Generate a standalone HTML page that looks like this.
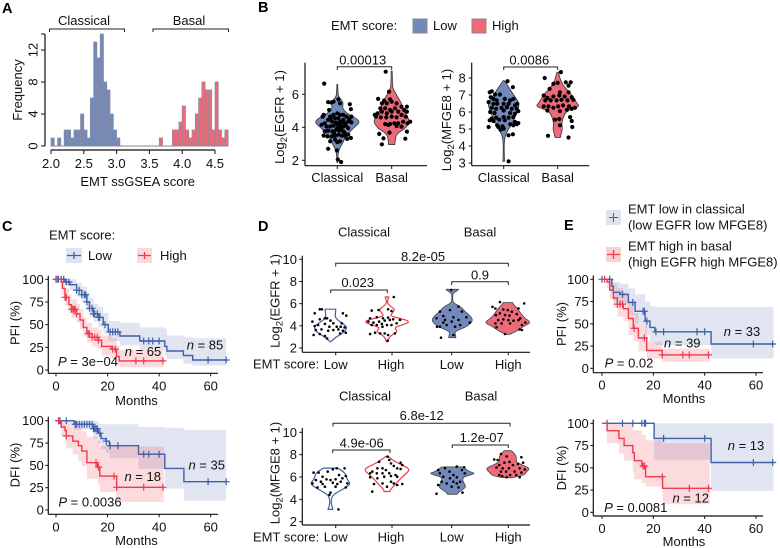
<!DOCTYPE html>
<html lang="en">
<head>
<meta charset="utf-8">
<title>EMT score figure</title>
<style>
html,body{margin:0;padding:0;background:#fff;}
svg{display:block;font-family:"Liberation Sans",Arial,sans-serif;font-size:13px;}
svg text{fill:#111;}
.c{text-anchor:middle;}
.br{fill:none;stroke:#222;stroke-width:1;}
.pl{font-weight:bold;font-size:14.5px;fill:#000;}
.it{font-style:italic;}
</style>
</head>
<body>
<svg id="fig" xmlns="http://www.w3.org/2000/svg" width="780" height="548" viewBox="0 0 780 548">
<rect width="780" height="548" fill="#fff"/>

<g id="pA">
<text class="pl" x="2" y="13">A</text>
<text class="c" x="84" y="25">Classical</text>
<text class="c" x="189" y="25">Basal</text>
<path class="br" d="M49.5 32V29H124.5V32"/>
<path class="br" d="M153 32V29H228.5V32"/>
<text class="c" transform="rotate(-90 17.5 90)" x="17.5" y="94.5">Frequency</text>
<text class="c" x="137.7" y="186">EMT ssGSEA score</text>
</g>

<g id="pB">
<text class="pl" x="258" y="12">B</text>
<text x="331" y="30">EMT score:</text>
<rect x="413" y="19" width="14" height="14" fill="#7389bb" stroke="#888" stroke-width="1"/>
<text x="433" y="30">Low</text>
<rect x="472" y="19" width="14" height="14" fill="#ee6a7a" stroke="#888" stroke-width="1"/>
<text x="492" y="30">High</text>
<text class="c" transform="rotate(-90 279.5 117)" x="279.5" y="121.5">Log<tspan dy="3" font-size="9.5">2</tspan><tspan dy="-3">(EGFR + 1)</tspan></text>
<text class="c" transform="rotate(-90 446.5 120)" x="446.5" y="124.5">Log<tspan dy="3" font-size="9.5">2</tspan><tspan dy="-3">(MFGE8 + 1)</tspan></text>
<path class="br" d="M337.3 70V66.7H391.7V70"/>
<text class="c" x="362.7" y="64.5">0.00013</text>
<path class="br" d="M503.7 70V67H557.7V70"/>
<text class="c" x="529.3" y="64.5">0.0086</text>
</g>

<g id="pC">
<text class="pl" x="2" y="231">C</text>
<text x="49" y="239.5">EMT score:</text>
<rect x="66" y="248" width="16" height="15" fill="#dfe3f0"/>
<path d="M67 255.5H81M74 252V259" stroke="#4060a8" stroke-width="1.3" fill="none"/>
<text x="88" y="260">Low</text>
<rect x="137" y="248" width="15" height="15" fill="#fbd9dc"/>
<path d="M138 255.5H151M144.5 252V259" stroke="#ee3a4e" stroke-width="1.3" fill="none"/>
<text x="160" y="260">High</text>
<text class="c" transform="rotate(-90 15 323)" x="15" y="327.5">PFI (%)</text>
<text class="c" transform="rotate(-90 15 465)" x="15" y="469.5">DFI (%)</text>
<text class="c" x="136.5" y="405">Months</text>
<text class="c" x="136.5" y="545">Months</text>
</g>

<g id="pD">
<text class="pl" x="258" y="231">D</text>
<text class="c" x="364" y="236.5">Classical</text>
<text class="c" x="480" y="236.5">Basal</text>
<text class="c" x="365" y="400.5">Classical</text>
<text class="c" x="481" y="400.5">Basal</text>
<text class="c" transform="rotate(-90 275 301)" x="275" y="305.5">Log<tspan dy="3" font-size="9.5">2</tspan><tspan dy="-3">(EGFR + 1)</tspan></text>
<text class="c" transform="rotate(-90 275 473)" x="275" y="477.5">Log<tspan dy="3" font-size="9.5">2</tspan><tspan dy="-3">(MFGE8 + 1)</tspan></text>
<path class="br" d="M335.7 266.5V263.3H508.3V266.5"/>
<text class="c" x="423" y="261">8.2e-05</text>
<path class="br" d="M451.7 285V281.7H508.3V285"/>
<text class="c" x="480" y="279.5">0.9</text>
<path class="br" d="M330.7 293V290H387.3V293"/>
<text class="c" x="357.7" y="287">0.023</text>
<path class="br" d="M333 426.5V423.3H510V426.5"/>
<text class="c" x="421.7" y="420">6.8e-12</text>
<path class="br" d="M452.3 448V445H508.3V448"/>
<text class="c" x="481.7" y="442">1.2e-07</text>
<path class="br" d="M332.7 453V450H390V453"/>
<text class="c" x="361.7" y="447.3">4.9e-06</text>
<text x="253" y="368.5">EMT score:</text>
<text x="253" y="541.5">EMT score:</text>
</g>

<g id="pE">
<text class="pl" x="564" y="230">E</text>
<rect x="606" y="210" width="15" height="15" fill="#dfe3f0"/>
<path d="M609 217.5H618M613.5 213V222" stroke="#4060a8" stroke-width="1" fill="none"/>
<text x="628" y="213.5">EMT low in classical</text>
<text x="628" y="229.5">(low EGFR low MFGE8)</text>
<rect x="606" y="247" width="15" height="15" fill="#fbd0d5"/>
<path d="M607 254.5H620M613.5 250V259" stroke="#ee3a4e" stroke-width="1.3" fill="none"/>
<text x="628" y="250.5">EMT high in basal</text>
<text x="628" y="266.5">(high EGFR high MFGE8)</text>
<text class="c" transform="rotate(-90 561.7 324)" x="561.7" y="328.5">PFI (%)</text>
<text class="c" transform="rotate(-90 561.7 468)" x="561.7" y="472.5">DFI (%)</text>
<text class="c" x="684" y="403">Months</text>
<text class="c" x="684" y="546">Months</text>
</g>

<g id="kmtext">
<text class="c" x="205" y="349.5"><tspan class="it">n</tspan> = 85</text>
<text class="c" x="143" y="356"><tspan class="it">n</tspan> = 65</text>
<text class="c" x="88" y="366"><tspan class="it">P</tspan> = 3e−04</text>
<text class="c" x="206.7" y="469.5"><tspan class="it">n</tspan> = 35</text>
<text class="c" x="142.7" y="481"><tspan class="it">n</tspan> = 18</text>
<text class="c" x="90" y="506.5"><tspan class="it">P</tspan> = 0.0036</text>
<text class="c" x="742" y="336"><tspan class="it">n</tspan> = 33</text>
<text class="c" x="682.3" y="347.5"><tspan class="it">n</tspan> = 39</text>
<text class="c" x="629" y="367.5"><tspan class="it">P</tspan> = 0.02</text>
<text class="c" x="746" y="450"><tspan class="it">n</tspan> = 13</text>
<text class="c" x="690.7" y="502.5"><tspan class="it">n</tspan> = 12</text>
<text class="c" x="635.7" y="512"><tspan class="it">P</tspan> = 0.0081</text>
</g>
</svg>

<script>
/* ---------- Panel A ---------- */
const histBinStart = 2.0;
const histBinWidth = 0.05;
const histClassicalCounts = [1,0,1,0,2,2,1,2,2,4,2,1,6,13,11,14,8,7,4,2,1];
const histBasalStart = 3.65;
const histBasalCounts = [1,0,0,0,2,2,3,5,2,1,2,4,6,8,7,7,2,8,2,1,2];
const histXTicks = [2.0,2.5,3.0,3.5,4.0,4.5];
const histYTicks = [0,4,8,12];

/* ---------- Panel B ---------- */
const bEgfrTicks = [2,4,6];
const bMfgeTicks = [3,4,5,6,7,8];
const bCategories = ['Classical','Basal'];

const bEgfrClassicalLevels = [1.85,2.3,2.6,2.8,3.1,3.4,3.7,4.0,4.2,4.35,4.55,4.8,5.0,5.2,5.4,5.6,5.8,6.0,6.6];
const bEgfrClassicalDensity = [.01,.03,.07,.14,.27,.36,.55,.77,.95,1,.86,.5,.32,.23,.27,.23,.09,.03,.02];
const bEgfrClassicalValues = [6.65,5.53,5.5,5.55,5.7,5.45,5.4,5.1,5.05,4.75,4.65,4.65,4.75,4.85,4.75,4.75,4.65,4.65,4.15,4.25,4.45,4.35,4.55,4.55,4.35,4.45,4.25,4.35,4.3,4.05,4.1,4.2,4.1,4.05,3.75,3.8,3.75,3.85,3.8,3.75,3.95,3.5,3.45,3.45,3.5,3.55,3.5,3.3,3.35,3.15,3.25,3.1,2.7,2.6,2.05,1.9,3.15,3.5,3.55,4.05,4.3,4.3,4.1,4.5,4.55,3.95,3.95,3.65,3.65];
const bEgfrClassicalJitter = [-.24,-.17,-.11,-.07,.02,.05,.23,.25,-.15,-.25,-.27,-.13,-.07,0,.05,.11,.17,.26,-.29,-.23,-.17,-.1,-.04,.02,.05,.11,.14,.2,.26,-.13,-.07,0,.05,.11,-.23,-.17,-.09,-.02,.04,.11,.2,-.25,-.18,-.1,-.04,.02,.08,.18,.25,-.13,-.04,0,-.17,-.01,.01,.07,.05,.14,.2,-.2,-.03,.08,.16,.22,-.12,0,.07,-.06,.14];

const bEgfrBasalLevels = [2.95,3.3,3.6,3.9,4.1,4.35,4.6,4.85,5.15,5.45,5.8,6.1,6.4,6.8,7.4];
const bEgfrBasalDensity = [.17,.2,.28,.7,.88,1,.9,.72,.62,.55,.35,.2,.05,.04,.03];
const bEgfrBasalValues = [7.37,5.72,6.16,5.7,5.62,5.45,5.45,5.56,5.45,5.15,5.15,5.05,5.15,5.25,5.25,4.85,4.95,4.85,4.95,4.95,5.05,4.95,4.65,4.6,4.6,4.65,4.6,4.75,4.65,4.2,4.2,4.24,4.24,4.34,4.24,4.14,4.08,4.04,3.6,3.68,3.33,2.97,3.31,3.74,4.75,4.34];
const bEgfrBasalJitter = [-.11,-.25,-.05,-.03,-.14,-.18,-.09,0,.09,-.21,-.12,-.03,.06,.18,.28,-.26,-.18,-.09,0,.12,.23,.28,-.29,-.2,-.1,0,.09,.18,.26,-.12,-.03,.05,.12,.21,.29,-.06,.09,.18,-.23,-.04,-.15,-.18,.25,.28,-.31,.34];

const bMfgeClassicalLevels = [3.1,3.6,4.2,4.6,4.9,5.1,5.5,5.9,6.2,6.5,6.8,7.2,7.5,7.85];
const bMfgeClassicalDensity = [.05,.03,.03,.1,.25,.4,.65,.8,.95,1,.8,.5,.3,.03];
const bMfgeClassicalValues = [7.81,7.46,7.22,7.16,7.03,7.03,6.87,6.77,6.68,6.77,6.68,6.77,6.58,6.48,6.48,6.48,6.48,6.39,6.48,6.25,6.19,6.25,6.29,6.19,6.19,6,5.94,6.09,5.94,5.9,6.05,5.61,5.67,5.7,5.67,5.7,5.51,5.47,5.55,5.51,5.41,5.35,5.22,5.16,5.28,5.22,5.12,4.96,5.02,4.63,4.69,3.1,5.12,5.28];
const bMfgeClassicalJitter = [.07,.17,-.22,-.26,-.16,-.07,-.24,-.19,-.13,.02,.12,.18,-.28,-.19,-.12,0,.09,.21,.25,-.22,-.14,-.04,.06,.15,.24,-.25,-.17,0,.12,.21,.27,-.22,-.14,0,.09,.18,-.26,-.19,-.08,.02,.21,.27,-.12,-.02,.12,.18,-.28,-.06,0,.09,.17,.09,-.1,.24];

const bMfgeBasalLevels = [4.5,4.7,5,5.3,5.7,6,6.15,6.33,6.55,6.9,7.2,7.6,8,8.35];
const bMfgeBasalDensity = [.12,.15,.22,.18,.25,.38,.6,1,.85,.7,.5,.22,.1,.03];
const bMfgeBasalValues = [8.35,8,7.71,7.75,7.75,7.55,7.65,7.36,7.16,7.16,6.97,6.83,6.91,6.97,6.91,6.87,6.68,6.68,6.68,6.72,6.68,6.72,6.33,6.33,6.25,6.33,6.39,6.33,6.25,6.09,6.05,6.13,6.19,5.7,5.55,5.59,5.47,5.22,5.12,4.6,4.5];
const bMfgeBasalJitter = [.06,-.24,0,.24,.15,.2,-.08,-.15,.04,.2,-.26,-.19,-.08,.03,.13,.26,-.23,-.13,-.02,.07,.18,.29,-.26,-.17,-.08,.01,.1,.21,.32,-.19,.04,.17,.26,.23,-.05,.03,.26,.04,.27,-.18,.2];

/* ---------- Panel D ---------- */
const dYTicks = [2,4,6,8,10];
const dGroups = ['Low','High','Low','High'];

const dEgfrLowClassicalLevels = [2.57,2.8,3,3.3,3.6,3.9,4.2,4.5,4.8,5.1,5.5];
const dEgfrLowClassicalDensity = [.02,.2,.35,.72,.9,1,.75,.45,.28,.3,.32];
const dEgfrLowClassicalValues = [5.49,5.49,5.13,5.13,4.92,4.68,4.68,4.38,4.59,4.47,4.23,4.23,3.98,4.07,4.17,3.92,3.92,3.92,3.86,3.62,3.68,3.56,3.62,3.68,3.56,3.17,3.26,3.08,2.87,3.32,3.38];
const dEgfrLowClassicalJitter = [-.19,-.15,-.28,.22,.28,-.1,-.06,-.32,-.19,0,.05,.2,-.28,-.22,-.1,-.02,.11,.18,.25,-.26,-.16,-.04,.05,.14,.22,-.3,-.19,-.1,-.06,.17,.27];

const dEgfrHighClassicalLevels = [2.57,2.8,3.1,3.4,3.6,3.85,4.1,4.4,4.7,4.9,5.2,5.5,5.75,6,6.3,6.6];
const dEgfrHighClassicalDensity = [.02,.06,.15,.4,.42,.3,.7,1,.5,.12,.25,.33,.15,.03,.02,.08];
const dEgfrHighClassicalValues = [6.6,5.37,5.43,5.49,5.34,4.68,4.77,4.68,4.74,4.59,4.38,4.29,4.38,4.47,4.53,4.23,4.53,4.07,4.07,4.17,4.07,4.07,3.26,3.38,3.32,3.32,3.17,3.32,2.66,3.92];
const dEgfrHighClassicalJitter = [.12,-.27,-.15,.02,.08,-.3,-.18,-.07,.02,.11,-.33,-.24,-.14,-.04,.05,.17,.23,-.27,-.18,-.09,0,.08,-.3,-.21,-.12,-.04,.02,.14,.01,-.08];

const dEgfrLowBasalLevels = [2.93,3.2,3.47,3.75,4,4.5,4.9,5.3,5.7,6.08,6.5,6.93,7.1,7.29];
const dEgfrLowBasalDensity = [.17,.15,.12,.45,.75,1,.85,.6,.42,.04,.02,.03,.2,.3];
const dEgfrLowBasalValues = [7.23,5.28,5.43,5.73,5.28,4.68,4.89,4.77,4.77,3.92,4.53,4.38,4.07,4.29,3.92,4.07,3.92,2.93,3.17,4.29,4.53];
const dEgfrLowBasalJitter = [-.02,-.22,-.04,.11,.17,-.28,-.16,.02,.25,-.27,-.13,-.01,.14,.31,-.22,-.1,.05,-.2,.02,-.16,.11];

const dEgfrHighBasalLevels = [3.23,3.5,3.77,4.05,4.3,4.7,5.12,5.6,5.9,6.1];
const dEgfrHighBasalDensity = [.08,.35,.55,.75,1,.72,.55,.4,.25,.2];
const dEgfrHighBasalValues = [6.14,6.02,5.72,5.56,5.57,5.47,5.42,5.27,5.12,4.97,4.97,4.92,5.06,4.67,4.52,4.58,4.52,4.46,4.52,4.3,4.22,4.22,4.22,4.07,3.88,3.68,3.62,3.26];
const dEgfrHighBasalJitter = [-.14,.29,-.27,-.22,.19,-.08,0,.07,-.14,-.21,-.05,.03,.16,.22,-.17,-.08,.01,.1,.19,.31,-.22,-.11,.04,.25,-.2,.21,.25,-.05];

const dMfgeLowClassicalLevels = [3.1,3.4,3.8,4.3,4.6,5,5.4,5.8,6.2,6.5,6.8];
const dMfgeLowClassicalDensity = [.12,.06,.03,.08,.3,.7,1,.8,.75,.62,.35];
const dMfgeLowClassicalValues = [3.1,6.39,6.39,6.48,6.69,6.78,6.78,6.03,6.18,6.09,5.73,5.79,5.73,5.79,5.88,5.43,5.37,5.49,5.37,5.43,5.07,5.13,5.13,5.07,4.6,4.4,5.58,5.58];
const dMfgeLowClassicalJitter = [.14,-.3,-.21,-.05,.04,.11,.25,-.14,.15,.27,-.26,-.07,0,.09,.21,-.32,-.14,.04,.12,.3,-.23,-.1,.09,.27,0,-.02,-.17,.18];

const dMfgeHighClassicalLevels = [4.7,4.9,5.2,5.7,6.2,6.7,7.1,7.5,7.85];
const dMfgeHighClassicalDensity = [.12,.15,.3,.5,.75,1,.6,.25,.05];
const dMfgeHighClassicalValues = [7.82,7.37,7.52,7.28,6.78,7.22,6.99,7.07,6.78,6.48,6.78,6.63,6.72,6.33,6.33,6.33,6.33,6.18,5.97,5.88,6.03,6.09,6.03,5.43,5.58,5.37,5.43,5.37,4.69,5.13,5.28];
const dMfgeHighClassicalJitter = [.01,-.14,.04,.24,-.08,.07,.12,.27,.18,-.26,-.17,-.02,.24,-.3,-.18,-.08,.04,.15,-.3,-.17,-.05,.07,.18,-.08,.07,-.23,.12,.27,-.26,0,.18];

const dMfgeLowBasalLevels = [4.45,4.7,5.1,5.4,5.9,6.1,6.3,6.5,6.9];
const dMfgeLowBasalDensity = [.2,.3,.6,.5,.42,.6,1,.7,.45];
const dMfgeLowBasalValues = [6.78,6.93,6.87,6.63,6.48,6.63,6.33,6.18,6.33,6.03,5.88,5.97,5.58,5.58,5.58,5.43,5.43,4.51,4.6,5.13,5.07,5.28];
const dMfgeLowBasalJitter = [-.13,.08,.21,-.25,-.05,.17,-.22,.02,.22,-.16,-.04,.08,.14,-.19,.02,-.1,.08,-.28,.18,-.01,.11,-.25];

const dMfgeHighBasalLevels = [5.94,6.1,6.4,6.78,7.1,7.4,7.7,8.1,8.35];
const dMfgeHighBasalDensity = [.15,.7,.8,1,.6,.35,.4,.3,.15];
const dMfgeHighBasalValues = [8.06,7.84,7.77,7.57,7.52,7.35,7.28,7.28,7.07,7.07,7.16,6.85,6.78,6.78,6.78,6.67,6.48,6.48,6.48,6.39,6.18,6.18,6.18,5.98,5.98,6.08];
const dMfgeHighBasalJitter = [-.12,-.02,.24,-.24,-.18,.03,-.06,.27,-.15,.09,.18,-.2,-.09,.02,.21,.3,-.12,-.03,.12,.24,-.15,.04,.15,-.02,.21,-.1];

/* ---------- Survival panels ---------- */
const kmXTicks = [0,20,40,60];
const kmYTicks = [0,25,50,75,100];

const cPfiLowTimes = [0,3.5,5.4,8,10,12,13,14.5,16.4,18.3,20.3,24.8,32.5,42.2,43,49.4,53,66];
const cPfiLowSurv = [100,97,94,88,83,75,68,62,58,50,42,37.5,32,26,21,16,11,11];
const cPfiLowLower = [100,93,88,81,75,66,59,53,47,40,32,27,22,16,12,7,5,5];
const cPfiLowUpper = [100,100,100,96,92,86,80,73,70,63,54,52,47,45,38,36,35,35];
const cPfiLowCensor = [0,1,2,3,4,5,8,9,10,11,11.5,12,13,14,14.5,15,16,16.5,17,19,21,22,23,24,34,36,37.5,40,59,66];

const cPfiHighTimes = [0,2,2.5,3.5,5,6,8,9.3,10.6,12,14,16.4,17.7,21.6,23.5,24.5,41.6];
const cPfiHighSurv = [100,97,90,80,72,67,62,55,47,40,36,33,26,23,15,10,10];
const cPfiHighLower = [100,92,83,71,63,57,52,45,37,30,26,23,16,13,6,3,3];
const cPfiHighUpper = [100,100,98,90,83,78,73,67,58,52,47,45,38,35,27,22,22];
const cPfiHighCensor = [.5,3.5,4,6,6.5,7,7.5,8,12.5,13,14,15,16,16.5,22,23,31,34,41.5];

const cDfiLowTimes = [0,7,14.5,16.4,17.5,19.4,20.7,32,42.2,49.6,66];
const cDfiLowSurv = [100,96,91,86,80,77,72,62.5,46.6,31.7,31.7];
const cDfiLowLower = [100,90,80,74,68,64,58,46,24,10.5,10.5];
const cDfiLowUpper = [100,100,100,97,96,96,96,93,92,89.5,89.5];
const cDfiLowCensor = [1,1.5,4,7.5,8,9,10,11,12,13,14,14.5,15,15.5,16,17,19.5,21,24,34,36,40,59,66];

const cDfiHighTimes = [0,2,3.5,4,6.5,8.7,10,12,16,17,23.5,41.8];
const cDfiHighSurv = [100,93,89,83,77,72,66,53,48,38,25.4,25.4];
const cDfiHighLower = [100,82,76,69,62,55,49,35,30,20,9,9];
const cDfiHighUpper = [100,100,100,100,96,93,88,82,78,72,71,71];
const cDfiHighCensor = [1,4,15.5,16.5,22.5,23.5,34,41.5];

const ePfiLowTimes = [0,3.8,4.4,7,10.3,12.9,16.8,18.7,20.6,42.5,66.8];
const ePfiLowSurv = [100,92,85.4,83,74,64,53,46,41,27.3,27.3];
const ePfiLowLower = [100,85,75,72,60,50,37,30,26,11,11];
const ePfiLowUpper = [100,100,97,95,90,83,75,70,69,69,69];
const ePfiLowCensor = [0,3,8,12,16,16.5,17.5,21,24,37,40,59,66.5];

const ePfiHighTimes = [0,2,3,4.4,6,8.3,10.3,12.2,14.2,17.4,23.5,42];
const ePfiHighSurv = [100,97,88,79,72,67,56,45,34,20,15,15];
const ePfiHighLower = [100,90,78,68,58,53,37,30,19,11,7.5,7.5];
const ePfiHighUpper = [100,100,100,95,90,85,75,62,50,30,22,22];
const ePfiHighCensor = [1,6,7,8,12.5,16.5,23.5,31.5,34,41.5];

const eDfiLowTimes = [0,20.3,42.5,66.8];
const eDfiLowSurv = [100,83,56,56];
const eDfiLowLower = [100,59,24,24];
const eDfiLowUpper = [100,100,100,100];
const eDfiLowCensor = [2,8,12,15.5,16.5,17,24,40,59,66.5];

const eDfiHighTimes = [0,2,6.6,8.6,12,12.6,15.5,17,23.6,42];
const eDfiHighSurv = [100,91.7,83,75,67,58,52,40,27,27];
const eDfiHighLower = [100,77.5,66,58,45,37,33,29,9,9];
const eDfiHighUpper = [100,100,100,100,92,92,87,81,77.5,77.5];
const eDfiHighCensor = [16,16.5,23.5,34,41.5];

/* ---------- Drawing helpers ---------- */
const NS = 'http://www.w3.org/2000/svg';
const BLUE_FILL = '#7389bb', RED_FILL = '#ee6a7a';
const BLUE_LINE = '#4060a8', RED_LINE = '#ee3a4e';

function mk(tag, attrs, parent) {
  const el = document.createElementNS(NS, tag);
  for (const k in attrs) el.setAttribute(k, attrs[k]);
  parent.appendChild(el);
  return el;
}
function linear(d0, d1, r0, r1) {
  return v => r0 + (v - d0) * (r1 - r0) / (d1 - d0);
}
function axisLine(parent, x1, y1, x2, y2, name) {
  const el = mk('line', {x1, y1, x2, y2, stroke: '#111', 'stroke-width': 1.2}, parent);
  
  
}
function tickMark(parent, x1, y1, x2, y2) {
  const el = mk('line', {x1, y1, x2, y2, stroke: '#111', 'stroke-width': 1}, parent);
  
  
}
function label(parent, x, y, str, anchor, rotate) {
  const attrs = {x, y: y + 4.5, 'text-anchor': anchor};
  if (rotate) attrs.transform = 'rotate(-90 ' + x + ' ' + y + ')';
  const el = mk('text', attrs, parent);
  el.textContent = str;
  
  
}
function smoothThrough(pts) {
  let d = '';
  for (let i = 1; i < pts.length - 1; i++) {
    const mx = (pts[i][0] + pts[i + 1][0]) / 2, my = (pts[i][1] + pts[i + 1][1]) / 2;
    d += 'Q' + pts[i][0].toFixed(1) + ' ' + pts[i][1].toFixed(1) + ' ' + mx.toFixed(1) + ' ' + my.toFixed(1);
  }
  const last = pts[pts.length - 1];
  return d + 'L' + last[0].toFixed(1) + ' ' + last[1].toFixed(1);
}
function drawViolin(parent, cx, y, levels, density, maxHalf, fill, stroke, strokeW, name) {
  const right = levels.map((v, i) => [cx + density[i] * maxHalf, y(v)]);
  const left = levels.map((v, i) => [cx - density[i] * maxHalf, y(v)]).reverse();
  const d = 'M' + right[0][0].toFixed(1) + ' ' + right[0][1].toFixed(1) + smoothThrough(right) +
    'L' + left[0][0].toFixed(1) + ' ' + left[0][1].toFixed(1) + smoothThrough(left) + 'Z';
  const el = mk('path', {d, fill, stroke, 'stroke-width': strokeW, 'stroke-linejoin': 'round'}, parent);
  
  
}
function drawPoints(parent, cx, spacing, y, values, jitter, r, name) {
  values.forEach((v, i) => {
    const el = mk('circle', {cx: (cx + jitter[i] * spacing).toFixed(1), cy: y(v).toFixed(1), r, fill: '#000'}, parent);
    
    
  });
}

/* ---------- Panel A draw ---------- */
(function () {
  const g = document.getElementById('pA');
  const x = linear(2, 4.5, 51, 215);
  const y = linear(0, 12, 146, 50);
  const base = mk('line', {x1: x(histBinStart), x2: x(4.7), y1: y(0), y2: y(0), stroke: '#888', 'stroke-width': 1}, g);
  
  
  function bars(start, counts, fill, name) {
    counts.forEach((c, i) => {
      if (!c) return;
      const l = x(start + i * histBinWidth), r = x(start + (i + 1) * histBinWidth);
      const el = mk('rect', {x: l.toFixed(2), y: y(c).toFixed(2), width: (r - l).toFixed(2), height: (y(0) - y(c)).toFixed(2), fill, stroke: '#8b8b96', 'stroke-width': .7}, g);
      
      
    });
  }
  bars(histBinStart, histClassicalCounts, BLUE_FILL, 'bar-classical');
  bars(histBasalStart, histBasalCounts, RED_FILL, 'bar-basal');
  axisLine(g, 45, 34, 45, y(0), 'y-axis');
  axisLine(g, x(2), 150, x(4.5), 150, 'x-axis');
  histYTicks.forEach(t => {
    tickMark(g, 41, y(t), 45, y(t));
    label(g, 33, y(t), String(t), 'middle', true);
  });
  tickMark(g, 41, 34, 45, 34);
  histXTicks.forEach(t => {
    tickMark(g, x(t), 150, x(t), 154);
    label(g, x(t), 163.5, t.toFixed(1), 'middle');
  });
})();

/* ---------- Panel B draw ---------- */
function drawBViolin(cfg) {
  const g = document.getElementById('pB');
  const y = cfg.y;
  const spacing = cfg.xs[1] - cfg.xs[0];
  drawViolin(g, cfg.xs[0], y, cfg.a.levels, cfg.a.density, cfg.a.half, BLUE_FILL, '#333', .8, 'violin-classical');
  drawViolin(g, cfg.xs[1], y, cfg.b.levels, cfg.b.density, cfg.b.half, RED_FILL, '#333', .8, 'violin-basal');
  drawPoints(g, cfg.xs[0], spacing, y, cfg.a.values, cfg.a.jitter, 2.1, 'point-classical');
  drawPoints(g, cfg.xs[1], spacing, y, cfg.b.values, cfg.b.jitter, 2.1, 'point-basal');
  axisLine(g, cfg.ax, 62.7, cfg.ax, 165.7, 'y-axis');
  axisLine(g, cfg.ax, 165.7, cfg.axEnd, 165.7, 'x-axis');
  cfg.ticks.forEach(t => {
    tickMark(g, cfg.ax - 3, y(t), cfg.ax, y(t));
    label(g, cfg.ax - 6, y(t), String(t), 'end');
  });
  bCategories.forEach((c, i) => {
    tickMark(g, cfg.xs[i], 165.7, cfg.xs[i], 169);
    label(g, cfg.xs[i], 177.5, c, 'middle');
  });
}
drawBViolin({
  xs: [337.3, 391.7], ax: 305, axEnd: 427, ticks: bEgfrTicks,
  y: linear(2, 6, 160.3, 94.3),
  a: {levels: bEgfrClassicalLevels, density: bEgfrClassicalDensity, half: 22, values: bEgfrClassicalValues, jitter: bEgfrClassicalJitter},
  b: {levels: bEgfrBasalLevels, density: bEgfrBasalDensity, half: 18, values: bEgfrBasalValues, jitter: bEgfrBasalJitter}
});
drawBViolin({
  xs: [503.7, 557.7], ax: 471.7, axEnd: 589.3, ticks: bMfgeTicks,
  y: linear(3, 8, 163, 78),
  a: {levels: bMfgeClassicalLevels, density: bMfgeClassicalDensity, half: 15.5, values: bMfgeClassicalValues, jitter: bMfgeClassicalJitter},
  b: {levels: bMfgeBasalLevels, density: bMfgeBasalDensity, half: 22, values: bMfgeBasalValues, jitter: bMfgeBasalJitter}
});

/* ---------- Panel D draw ---------- */
function drawDViolin(cfg) {
  const g = document.getElementById('pD');
  const y = cfg.y;
  const spacing = 56.5;
  const tickX = [335.7, 392, 451.7, 508.3];
  const centers = [330.5, 387, 452.3, 507.8];
  const styles = [
    ['#fff', BLUE_LINE, 1.2],
    ['#fff', RED_LINE, 1.2],
    [BLUE_FILL, '#444', .8],
    [RED_FILL, '#444', .8]
  ];
  cfg.groups.forEach((d, i) => {
    drawViolin(g, centers[i], y, d.levels, d.density, d.half, styles[i][0], styles[i][1], styles[i][2], 'violin-' + d.id);
  });
  cfg.groups.forEach((d, i) => {
    drawPoints(g, centers[i], spacing, y, d.values, d.jitter, 1.3, 'point-' + d.id);
  });
  axisLine(g, 302.3, cfg.top, 302.3, cfg.base, 'y-axis');
  axisLine(g, 302.3, cfg.base, 530, cfg.base, 'x-axis');
  dYTicks.forEach(t => {
    tickMark(g, 299.3, y(t), 302.3, y(t));
    label(g, 297, y(t), String(t), 'end');
  });
  dGroups.forEach((c, i) => {
    tickMark(g, tickX[i], cfg.base, tickX[i], cfg.base + 3);
    label(g, tickX[i] + (i === 1 ? -1 : 0), cfg.base + 12, c, 'middle');
  });
}
drawDViolin({
  top: 255.7, base: 352.3, y: linear(2, 10, 348, 259.3),
  groups: [
    {id: 'egfr-low-classical', levels: dEgfrLowClassicalLevels, density: dEgfrLowClassicalDensity, half: 16.5, values: dEgfrLowClassicalValues, jitter: dEgfrLowClassicalJitter},
    {id: 'egfr-high-classical', levels: dEgfrHighClassicalLevels, density: dEgfrHighClassicalDensity, half: 23.5, values: dEgfrHighClassicalValues, jitter: dEgfrHighClassicalJitter},
    {id: 'egfr-low-basal', levels: dEgfrLowBasalLevels, density: dEgfrLowBasalDensity, half: 21, values: dEgfrLowBasalValues, jitter: dEgfrLowBasalJitter},
    {id: 'egfr-high-basal', levels: dEgfrHighBasalLevels, density: dEgfrHighBasalDensity, half: 23.5, values: dEgfrHighBasalValues, jitter: dEgfrHighBasalJitter}
  ]
});
drawDViolin({
  top: 428, base: 525, y: linear(2, 10, 521.7, 432.3),
  groups: [
    {id: 'mfge8-low-classical', levels: dMfgeLowClassicalLevels, density: dMfgeLowClassicalDensity, half: 20.5, values: dMfgeLowClassicalValues, jitter: dMfgeLowClassicalJitter},
    {id: 'mfge8-high-classical', levels: dMfgeHighClassicalLevels, density: dMfgeHighClassicalDensity, half: 23.5, values: dMfgeHighClassicalValues, jitter: dMfgeHighClassicalJitter},
    {id: 'mfge8-low-basal', levels: dMfgeLowBasalLevels, density: dMfgeLowBasalDensity, half: 23.5, values: dMfgeLowBasalValues, jitter: dMfgeLowBasalJitter},
    {id: 'mfge8-high-basal', levels: dMfgeHighBasalLevels, density: dMfgeHighBasalDensity, half: 22.5, values: dMfgeHighBasalValues, jitter: dMfgeHighBasalJitter}
  ]
});

/* ---------- Survival draw ---------- */
function stepPath(x, y, times, vals) {
  let d = '';
  times.forEach((t, i) => {
    if (i === 0) d += 'M' + x(t).toFixed(1) + ' ' + y(vals[i]).toFixed(1);
    else d += 'H' + x(t).toFixed(1) + 'V' + y(vals[i]).toFixed(1);
  });
  return d;
}
function bandPath(x, y, times, lower, upper) {
  let d = stepPath(x, y, times, upper);
  for (let i = times.length - 1; i >= 0; i--) {
    d += 'L' + x(times[i]).toFixed(1) + ' ' + y(lower[i]).toFixed(1);
    if (i > 0) d += 'L' + x(times[i]).toFixed(1) + ' ' + y(lower[i - 1]).toFixed(1);
  }
  return d + 'Z';
}
function survAt(times, surv, t) {
  let s = surv[0];
  times.forEach((tt, i) => { if (t >= tt) s = surv[i]; });
  return s;
}
function drawKM(parentId, cfg) {
  const g = document.getElementById(parentId);
  const x = linear(0, 60, cfg.x0, cfg.x60);
  const y = linear(0, 100, cfg.y0, cfg.y100);
  cfg.series.forEach(s => {
    const band = mk('path', {d: bandPath(x, y, s.times, s.lower, s.upper), fill: s.band, 'fill-opacity': s.alpha}, g);
    
    
  });
  cfg.series.forEach(s => {
    const line = mk('path', {d: stepPath(x, y, s.times, s.surv), fill: 'none', stroke: s.color, 'stroke-width': 1.4}, g);
    
    
    s.censor.forEach(t => {
      const cx = x(t), cy = y(survAt(s.times, s.surv, t));
      const m = mk('path', {d: 'M' + (cx - 3.5).toFixed(1) + ' ' + cy.toFixed(1) + 'h7M' + cx.toFixed(1) + ' ' + (cy - 3.5).toFixed(1) + 'v7', stroke: s.color, 'stroke-width': 1.2, fill: 'none'}, g);
      
      
    });
  });
  axisLine(g, cfg.ax, cfg.top, cfg.ax, cfg.base, 'y-axis');
  axisLine(g, cfg.ax, cfg.base, cfg.axEnd, cfg.base, 'x-axis');
  kmYTicks.forEach(t => {
    tickMark(g, cfg.ax - 3, y(t), cfg.ax, y(t));
    label(g, cfg.ax - 4.5, y(t), String(t), 'end');
  });
  kmXTicks.forEach(t => {
    tickMark(g, x(t), cfg.base, x(t), cfg.base + 3);
    label(g, x(t), cfg.base + 12.5, String(t), 'middle');
  });
}
function seriesBlue(id, times, surv, lower, upper, censor) {
  return {id, times, surv, lower, upper, censor, color: BLUE_LINE, band: '#4a66ad', alpha: .17};
}
function seriesRed(id, times, surv, lower, upper, censor) {
  return {id, times, surv, lower, upper, censor, color: RED_LINE, band: '#ee4a5a', alpha: .2};
}
drawKM('pC', {x0: 56, x60: 210.7, y0: 370, y100: 279.3, ax: 48.3, axEnd: 218, top: 275.7, base: 373.3, series: [
  seriesBlue('pfi-low', cPfiLowTimes, cPfiLowSurv, cPfiLowLower, cPfiLowUpper, cPfiLowCensor),
  seriesRed('pfi-high', cPfiHighTimes, cPfiHighSurv, cPfiHighLower, cPfiHighUpper, cPfiHighCensor)
]});
drawKM('pC', {x0: 56, x60: 210.7, y0: 510, y100: 420.7, ax: 48.3, axEnd: 218, top: 416.7, base: 514.3, series: [
  seriesBlue('dfi-low', cDfiLowTimes, cDfiLowSurv, cDfiLowLower, cDfiLowUpper, cDfiLowCensor),
  seriesRed('dfi-high', cDfiHighTimes, cDfiHighSurv, cDfiHighLower, cDfiHighUpper, cDfiHighCensor)
]});
drawKM('pE', {x0: 602, x60: 756, y0: 368.3, y100: 279.3, ax: 593.3, axEnd: 763, top: 275.5, base: 372.7, series: [
  seriesBlue('e-pfi-low', ePfiLowTimes, ePfiLowSurv, ePfiLowLower, ePfiLowUpper, ePfiLowCensor),
  seriesRed('e-pfi-high', ePfiHighTimes, ePfiHighSurv, ePfiHighLower, ePfiHighUpper, ePfiHighCensor)
]});
drawKM('pE', {x0: 602, x60: 756, y0: 512.3, y100: 423.3, ax: 593.3, axEnd: 763, top: 419.5, base: 516, series: [
  seriesBlue('e-dfi-low', eDfiLowTimes, eDfiLowSurv, eDfiLowLower, eDfiLowUpper, eDfiLowCensor),
  seriesRed('e-dfi-high', eDfiHighTimes, eDfiHighSurv, eDfiHighLower, eDfiHighUpper, eDfiHighCensor)
]});

document.getElementById('fig').appendChild(document.getElementById('kmtext'));
</script>
</body>
</html>
